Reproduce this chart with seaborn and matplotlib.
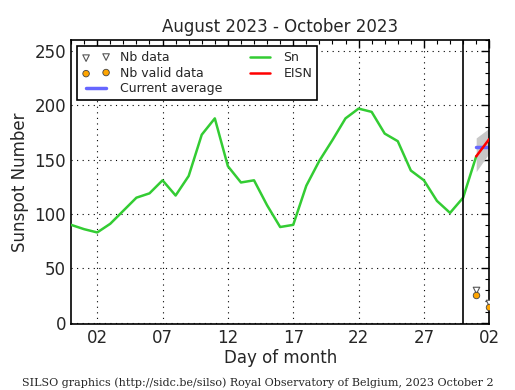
"""
plot.py

Daily sunspot number (Sn), EISN estimate and Nb counts, SILSO style.
"""

import matplotlib.pyplot as plt
from matplotlib.ticker import MultipleLocator
import numpy as np
import pandas as pd
import seaborn as sns

# day index: 0 = Aug 31, 1..30 = September, 31 = Oct 1, 32 = Oct 2
sn_days = list(range(0, 32))
sn_values = [90, 86, 83, 91, 103, 115, 119, 131, 117, 135, 173, 188,
             144, 129, 131, 108, 88, 90, 126, 149, 168, 188, 197, 194,
             174, 167, 140, 131, 112, 101, 115, 153]

eisn_days = [31, 32]
eisn_values = [153, 169]
eisn_low = [139, 156]
eisn_high = [170, 179]

avg_days = [31, 32]
avg_values = [162, 162]

nb_days = [31, 32]
nb_data = [30, 18]
nb_valid = [25, 14]

month_end = 30
tick_days = [2, 7, 12, 17, 22, 27, 32]
tick_labels = ["02", "07", "12", "17", "22", "27", "02"]


def main():
    sns.set_style("white")
    plt.rcParams["font.family"] = ["DejaVu Sans"]

    fig = plt.figure(figsize=(5.15, 3.9), dpi=100)
    ax = fig.add_axes([0.138, 0.17, 0.812, 0.727])

    sn = pd.DataFrame({"day": sn_days, "Sn": sn_values})
    ax.fill_between(eisn_days, eisn_low, eisn_high, color="#c8c8c8",
                    linewidth=0, zorder=1)
    sns.lineplot(data=sn, x="day", y="Sn", color="#33cc33", linewidth=1.8,
                 ax=ax, label="Sn", zorder=3)
    ax.plot(avg_days, avg_values, color="#6666ff", linewidth=2.5,
            label="Current average", zorder=2)
    sns.lineplot(x=eisn_days, y=eisn_values, color="red", linewidth=1.8,
                 ax=ax, label="EISN", zorder=4)
    ax.vlines(nb_days, nb_valid, nb_data, color="#555555", linewidth=0.8,
              zorder=4)
    sns.scatterplot(x=nb_days, y=nb_data, marker="v", s=22,
                    facecolor="white", edgecolor="#555555", linewidth=0.8,
                    ax=ax, label="Nb data", zorder=5)
    sns.scatterplot(x=nb_days, y=nb_valid, marker="o", s=22,
                    color="orange", edgecolor="#444444", linewidth=0.6,
                    ax=ax, label="Nb valid data", zorder=6)
    ax.axvline(month_end, color="black", linewidth=1.2, zorder=5)

    ax.set_xlim(0, 32)
    ax.set_ylim(-1, 260)
    ax.set_xticks(tick_days)
    ax.set_xticklabels(tick_labels)
    ax.xaxis.set_minor_locator(MultipleLocator(1))
    ax.yaxis.set_major_locator(MultipleLocator(50))
    ax.yaxis.set_minor_locator(MultipleLocator(10))
    ax.tick_params(which="both", direction="in", top=True, right=True,
                   labelsize=12, color="black")
    ax.tick_params(which="major", length=6, width=1)
    ax.tick_params(which="minor", length=3, width=0.8)
    ax.grid(True, which="major", color="black", linestyle=(0, (1, 4)),
            linewidth=0.8)
    for spine in ax.spines.values():
        spine.set_color("black")
        spine.set_linewidth(1.2)

    ax.set_title("August 2023 - October 2023", fontsize=12)
    ax.set_xlabel("Day of month", fontsize=12, labelpad=2)
    ax.set_ylabel("Sunspot Number", fontsize=12)

    handles, labels = ax.get_legend_handles_labels()
    order = ["Nb data", "Nb valid data", "Current average", "Sn", "EISN"]
    hmap = dict(zip(labels, handles))
    leg = ax.legend([hmap[k] for k in order], order, loc="upper left",
                    ncol=2, fontsize=9, frameon=True, fancybox=False,
                    edgecolor="black", framealpha=1, numpoints=2,
                    scatterpoints=2, handlelength=2.2, columnspacing=1.9,
                    borderpad=0.4, labelspacing=0.2,
                    bbox_to_anchor=(0.0, 1.0))
    leg.get_frame().set_linewidth(1.2)

    fig.text(0.5, 0.005,
             "SILSO graphics (http://sidc.be/silso) Royal Observatory of "
             "Belgium, 2023 October 2",
             ha="center", va="bottom", fontsize=8, family="DejaVu Serif")

    fig.savefig("out.png", dpi=100)


if __name__ == "__main__":
    main()
